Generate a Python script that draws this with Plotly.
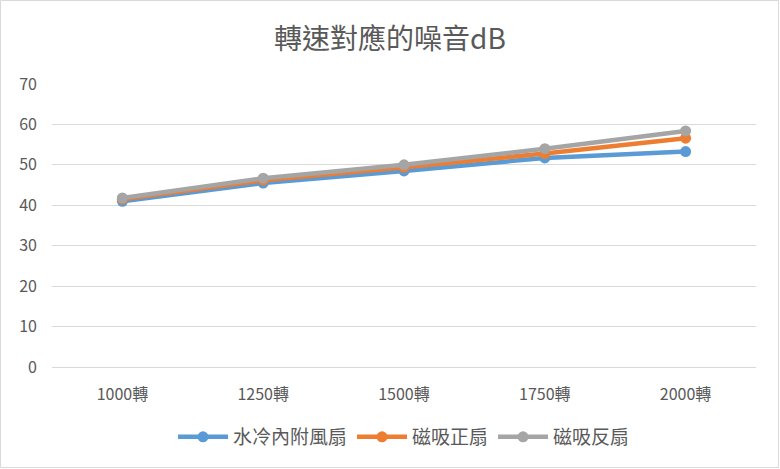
import plotly.graph_objects as go

categories = ["1000轉", "1250轉", "1500轉", "1750轉", "2000轉"]
water = [41.0, 45.5, 48.5, 51.7, 53.3]
mag_fwd = [41.5, 46.2, 49.4, 52.8, 56.6]
mag_rev = [41.8, 46.7, 50.0, 54.0, 58.4]
series = [("水冷內附風扇", water, "#5B9BD5"),
          ("磁吸正扇", mag_fwd, "#ED7D31"),
          ("磁吸反扇", mag_rev, "#A5A5A5")]

FONT = "Noto Sans CJK TC"
fig = go.Figure()
for name, vals, col in series:
    fig.add_trace(go.Scatter(x=categories, y=vals, name=name, mode="lines+markers",
                             line=dict(color=col, width=4.5),
                             marker=dict(color=col, size=11)))

W, H = 780, 469
ml, mr, mt, mb = 52, 24, 84, 102
pw, ph = W - ml - mr, H - mt - mb
fig.update_layout(
    width=W, height=H,
    margin=dict(l=ml, r=mr, t=mt, b=mb),
    paper_bgcolor="white", plot_bgcolor="white",
    font=dict(family=FONT, color="#595959", size=15),
    title=dict(text="轉速對應的噪音dB", x=0.5, xanchor="center", y=1 - 39 / H, yanchor="middle",
               font=dict(size=28, color="#595959", family=FONT)),
    xaxis=dict(type="category", range=[-0.5, 4.5], showgrid=False, showline=True,
               linecolor="#D9D9D9", linewidth=1, ticks="", ticklabelstandoff=13,
               tickfont=dict(size=16, color="#595959")),
    yaxis=dict(range=[0, 70], dtick=10, showgrid=True, gridcolor="#D9D9D9", gridwidth=1,
               zeroline=False, showline=False, ticks="", ticklabelstandoff=14,
               tickfont=dict(size=16, color="#595959")),
    legend=dict(orientation="h", x=0.5, xanchor="center", y=-(437 - 367) / ph, yanchor="middle",
                font=dict(size=19, color="#595959"), itemwidth=50),
    showlegend=True,
)
fig.add_shape(type="rect", xref="paper", yref="paper",
              x0=-(ml - 0.5) / pw, x1=1 + (mr - 1.5) / pw,
              y0=-(mb - 1.5) / ph, y1=1 + (mt - 0.5) / ph,
              line=dict(color="#D9D9D9", width=1), fillcolor="rgba(0,0,0,0)", layer="below")
fig.write_html("out.html")
